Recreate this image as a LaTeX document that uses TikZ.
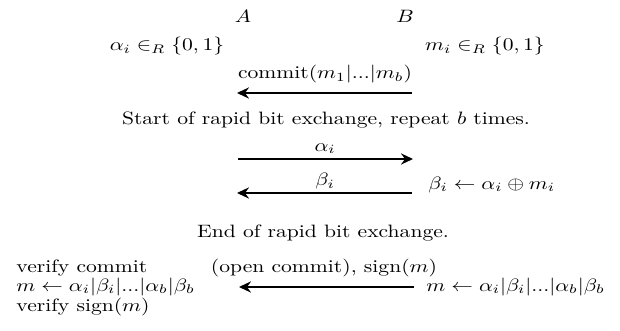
\documentclass[tikz,border=0pt]{standalone}
\usetikzlibrary{arrows.meta}
\begin{document}
\begin{tikzpicture}[x=0.625pt,y=-0.625pt,
  lbl/.style={inner sep=0pt,xscale=1.35,yscale=1.12,transform shape},
  msg/.style={line width=1.1pt,-{Stealth[length=7.5pt,width=7pt,inset=2.5pt]}}]
\useasboundingbox (0,0) rectangle (620,331);
\node[lbl] (A) at (243,16) {$A$};
\node[lbl] (B) at (405,16) {$B$};
\node[lbl] (ainit) at (167,46) {$\alpha_i \in_R \{0,1\}$};
\node[lbl] (minit) at (485,46) {$m_i \in_R \{0,1\}$};
\coordinate (c1r) at (412,93);
\coordinate (c1l) at (237,93);
\node[lbl,anchor=base] (commit) at (325,79) {commit$(m_1|...|m_b)$};
\draw[msg] (c1r) -- (c1l);
\node[lbl,anchor=base] (start) at (326,125) {Start of rapid bit exchange, repeat $b$ times.};
\coordinate (c2l) at (238,159);
\coordinate (c2r) at (413,159);
\node[lbl,anchor=base] (alab) at (325,151) {$\alpha_i$};
\draw[msg] (c2l) -- (c2r);
\coordinate (c3r) at (412,193);
\coordinate (c3l) at (237,193);
\node[lbl,anchor=base] (blab) at (325,186) {$\beta_i$};
\draw[msg] (c3r) -- (c3l);
\node[lbl,anchor=base west] (bcalc) at (428,189) {$\beta_i \leftarrow \alpha_i \oplus m_i$};
\node[lbl,anchor=base] (end) at (323,237) {End of rapid bit exchange.};
\node[lbl,anchor=base west] (ver1) at (16,272) {verify commit};
\node[lbl,anchor=base west] (ver2) at (16,291) {$m \leftarrow \alpha_i|\beta_i|...|\alpha_b|\beta_b$};
\node[lbl,anchor=base west] (ver3) at (16,311) {verify sign$(m)$};
\node[lbl,anchor=base] (open) at (324,272) {(open commit), sign$(m)$};
\coordinate (c4r) at (414,287);
\coordinate (c4l) at (239,287);
\draw[msg] (c4r) -- (c4l);
\node[lbl,anchor=base west] (mB) at (426,291) {$m \leftarrow \alpha_i|\beta_i|...|\alpha_b|\beta_b$};
\end{tikzpicture}
\end{document}
